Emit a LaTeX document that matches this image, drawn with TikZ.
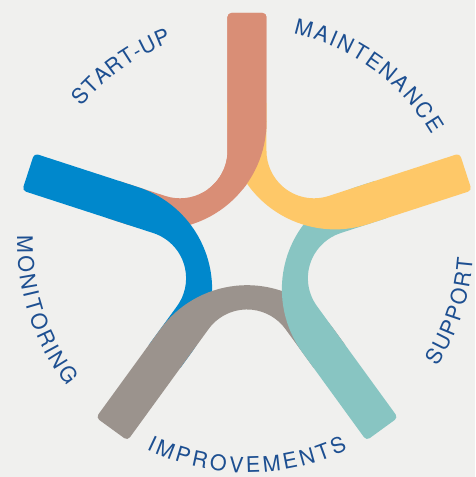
\documentclass[tikz,border=0pt]{standalone}
\usepackage{fontspec}
\usetikzlibrary{decorations.text}
\newfontfamily\lblfont{TeX Gyre Heros}
\definecolor{bgcol}{HTML}{F0F0EE}
\definecolor{salmon}{HTML}{D98E76}
\definecolor{skyblue}{HTML}{0088CC}
\definecolor{stone}{HTML}{9B938D}
\definecolor{teal}{HTML}{88C5C2}
\definecolor{sun}{HTML}{FEC868}
\definecolor{lblblue}{HTML}{1D4F91}
\def\lbl{\lblfont\fontsize{21.5pt}{24pt}\selectfont\color{lblblue}}
% one arm: #1 = angle of the outer end, #2 = colour
% (drawn for the top arm, then turned; its tail runs under the next arm)
\def\arm#1#2{%
	\fill[#2, rotate=#1-90] (19.5, 121.1) -- (19.5, 200) [rounded corners=4pt] -- (19.5, 230) -- (-19.5, 230) -- (-19.5, 200) [sharp corners]
		-- (-19.5, 92.2) arc[start angle=0, end angle=-108, radius=47.5]
		-- ++(162:47.8) -- ++(252:39) -- ++(342:18.9)
		arc[start angle=-108, end angle=0, radius=107.5] -- cycle;
}
\tikzset{
	label arc/.style={decorate, decoration={text along path, text align={fit to path}, text={|\lbl|#1}}}
}

\begin{document}
\begin{tikzpicture}[x=1pt, y=1pt]
			%%%%% START %%%%%
			
			\fill[bgcol] (-247, -234) rectangle (228, 243);
			\useasboundingbox (-247, -234) rectangle (228, 243);
			
			\arm{90}{salmon}
			\arm{162}{skyblue}
			\arm{234}{stone}
			\arm{306}{teal}
			\arm{18}{sun}
			% top arm again over the tail of the yellow one
			\begin{scope}
				\clip (-50, 55) rectangle (50, 236);
				\arm{90}{salmon}
			\end{scope}
			
			\path[label arc=START-UP] (140.6:214.3) arc[start angle=140.6, end angle=110.6, radius=214.3];
			\path[label arc=MAINTENANCE] (77.5:214.3) arc[start angle=77.5, end angle=30.4, radius=214.3];
			\path[label arc=MONITORING] (178.2:229.7) arc[start angle=178.2, end angle=218.6, radius=229.7];
			\path[label arc=IMPROVEMENTS] (244:229.7) arc[start angle=244, end angle=296, radius=229.7];
			\path[label arc=SUPPORT] (327:226.5) arc[start angle=327, end angle=356, radius=226.5];
			
			%%%%% END %%%%%
\end{tikzpicture}
\end{document}
